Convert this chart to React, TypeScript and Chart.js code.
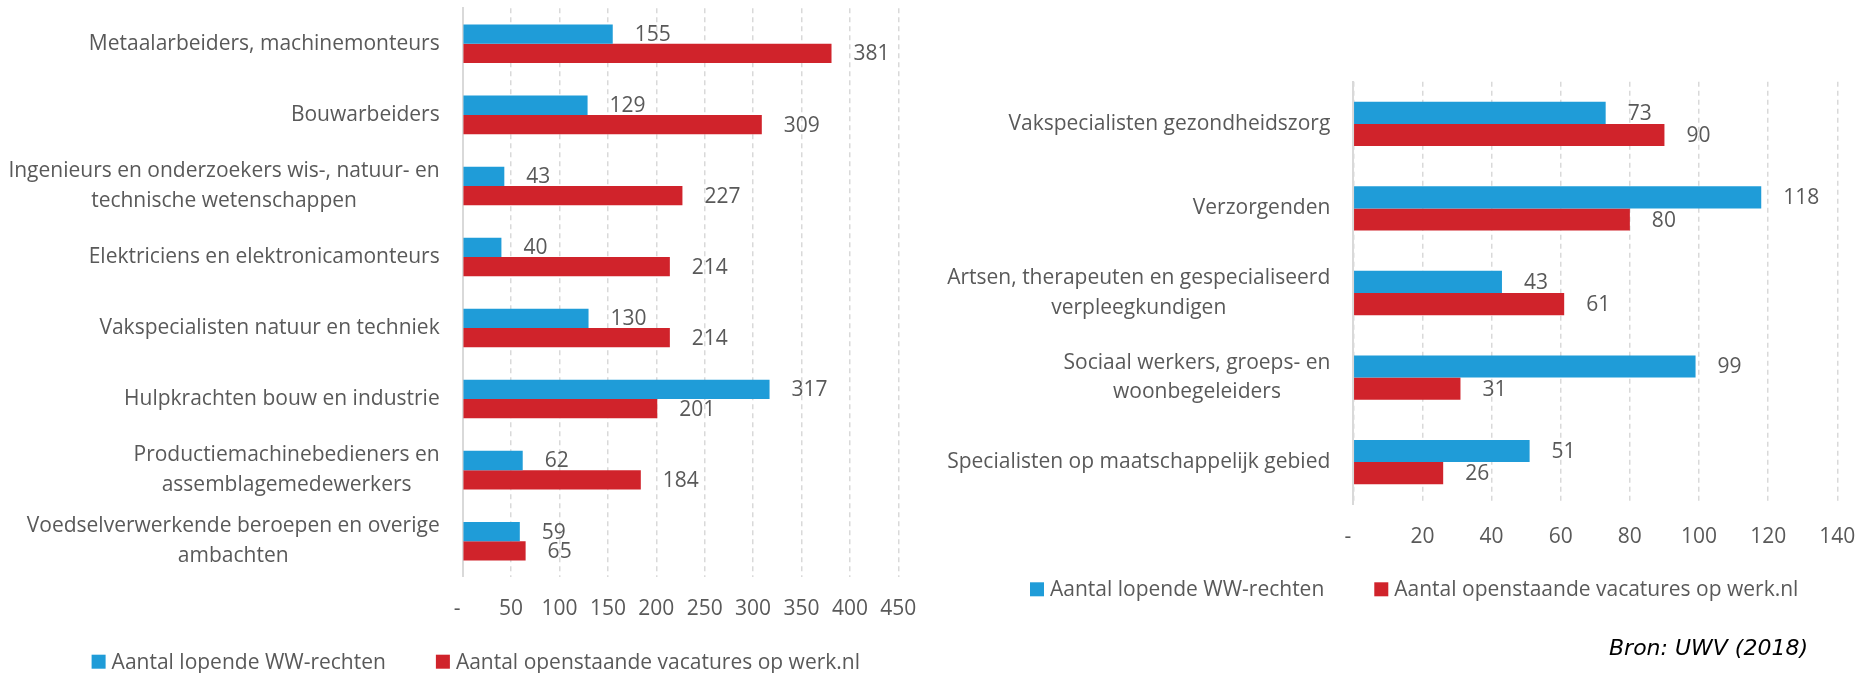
import React, { useEffect, useRef } from 'react';
import { Chart, registerables } from 'chart.js';

Chart.register(...registerables);

// ---------- data ----------
const seriesLabels = ['Aantal lopende WW-rechten', 'Aantal openstaande vacatures op werk.nl'];

const leftCategories: (string | string[])[] = [
  'Metaalarbeiders, machinemonteurs',
  'Bouwarbeiders',
  ['Ingenieurs en onderzoekers wis-, natuur- en', 'technische wetenschappen'],
  'Elektriciens en elektronicamonteurs',
  'Vakspecialisten natuur en techniek',
  'Hulpkrachten bouw en industrie',
  ['Productiemachinebedieners en', 'assemblagemedewerkers'],
  ['Voedselverwerkende beroepen en overige', 'ambachten'],
];
const leftWW = [155, 129, 43, 40, 130, 317, 62, 59];
const leftVacatures = [381, 309, 227, 214, 214, 201, 184, 65];
const leftAxisMax = 450;
const leftAxisStep = 50;

const rightCategories: (string | string[])[] = [
  'Vakspecialisten gezondheidszorg',
  'Verzorgenden',
  ['Artsen, therapeuten en gespecialiseerd', 'verpleegkundigen'],
  ['Sociaal werkers, groeps- en', 'woonbegeleiders'],
  'Specialisten op maatschappelijk gebied',
];
const rightWW = [73, 118, 43, 99, 51];
const rightVacatures = [90, 80, 61, 31, 26];
const rightAxisMax = 140;
const rightAxisStep = 20;

const sourceNote = 'Bron: UWV (2018)';

// ---------- style ----------
const BLUE = '#1F9CD8';
const RED = '#D0232B';
const TEXT = '#595959';
const GRID = '#D9D9D9';
const FAMILY = '"Open Sans", sans-serif';
const FS = 21;

const catLabelPlugin = {
  id: 'catLabels',
  afterDraw(chart: any, _args: any, opts: any) {
    const ctx = chart.ctx;
    const yScale = chart.scales.y;
    ctx.save();
    ctx.font = `${FS}px ${FAMILY}`;
    ctx.fillStyle = TEXT;
    ctx.textBaseline = 'middle';
    ctx.textAlign = 'center';
    (chart.data.labels as any[]).forEach((lab, i) => {
      const lines: string[] = Array.isArray(lab) ? lab : [lab];
      const maxW = Math.max(...lines.map((l) => ctx.measureText(l).width));
      const cx = chart.chartArea.left - opts.gap - maxW / 2;
      const cy = yScale.getPixelForValue(i);
      lines.forEach((l, k) => {
        ctx.fillText(l, cx, cy + (k - (lines.length - 1) / 2) * opts.lineHeight);
      });
    });
    ctx.restore();
  },
};

const valueLabelPlugin = {
  id: 'valueLabels',
  afterDatasetsDraw(chart: any, _args: any, opts: any) {
    const ctx = chart.ctx;
    ctx.save();
    ctx.font = `${FS}px ${FAMILY}`;
    ctx.fillStyle = TEXT;
    ctx.textBaseline = 'middle';
    ctx.textAlign = 'left';
    chart.data.datasets.forEach((ds: any, di: number) => {
      const meta = chart.getDatasetMeta(di);
      meta.data.forEach((bar: any, i: number) => {
        ctx.fillText(String(ds.data[i]), bar.x + opts.gap, bar.y + 1);
      });
    });
    ctx.restore();
  },
};

const boxLegendPlugin = {
  id: 'boxLegend',
  afterDraw(chart: any, _args: any, opts: any) {
    const ctx = chart.ctx;
    ctx.save();
    ctx.font = `${FS}px ${FAMILY}`;
    ctx.textBaseline = 'middle';
    ctx.textAlign = 'left';
    let x = opts.x;
    const y = opts.y;
    chart.data.datasets.forEach((ds: any) => {
      ctx.fillStyle = ds.backgroundColor;
      ctx.fillRect(x, y - opts.box / 2, opts.box, opts.box);
      x += opts.box + opts.gap;
      ctx.fillStyle = TEXT;
      ctx.fillText(ds.label, x, y + 1);
      x += ctx.measureText(ds.label).width + opts.itemGap;
    });
    ctx.restore();
  },
};

function makeConfig(p: {
  labels: (string | string[])[];
  ww: number[];
  vac: number[];
  max: number;
  step: number;
  catPct: number;
  padding: { top: number; left: number; right: number; bottom: number };
  yWidth: number;
  xHeight: number;
  legend: { x: number; y: number };
}): any {
  return {
    type: 'bar',
    data: {
      labels: p.labels,
      datasets: [
        { label: seriesLabels[0], data: p.ww, backgroundColor: BLUE, borderWidth: 0, categoryPercentage: p.catPct, barPercentage: 1 },
        { label: seriesLabels[1], data: p.vac, backgroundColor: RED, borderWidth: 0, categoryPercentage: p.catPct, barPercentage: 1 },
      ],
    },
    options: {
      indexAxis: 'y',
      animation: false,
      responsive: false,
      maintainAspectRatio: false,
      layout: { padding: p.padding },
      scales: {
        x: {
          min: 0,
          max: p.max,
          ticks: {
            stepSize: p.step,
            padding: 0,
            color: TEXT,
            font: { family: FAMILY, size: FS },
            maxRotation: 0,
            autoSkip: false,
            callback: (v: any) => (Number(v) === 0 ? '-  ' : String(v)),
          },
          grid: { color: GRID, lineWidth: 1.5, drawTicks: true, tickLength: 20, tickWidth: 0, tickColor: 'rgba(0,0,0,0)' },
          border: { display: false, dash: [5, 4] },
          afterFit: (s: any) => {
            s.height = p.xHeight;
          },
        },
        y: {
          ticks: { display: false },
          grid: { display: false },
          border: { display: true, color: GRID, width: 2 },
          afterFit: (s: any) => {
            s.width = p.yWidth;
          },
        },
      },
      plugins: {
        legend: { display: false },
        tooltip: { enabled: false },
        catLabels: { gap: 23, lineHeight: 29.5 },
        valueLabels: { gap: 22 },
        boxLegend: { x: p.legend.x, y: p.legend.y, box: 14, gap: 6, itemGap: 50 },
      },
    },
    plugins: [catLabelPlugin, valueLabelPlugin, boxLegendPlugin],
  };
}

export default function App() {
  const leftRef = useRef<HTMLCanvasElement>(null);
  const rightRef = useRef<HTMLCanvasElement>(null);

  useEffect(() => {
    const left = new Chart(
      leftRef.current!,
      makeConfig({
        labels: leftCategories,
        ww: leftWW,
        vac: leftVacatures,
        max: leftAxisMax,
        step: leftAxisStep,
        catPct: 0.543,
        padding: { top: 8.3, left: 0, right: 31.7, bottom: 0 },
        yWidth: 462.7,
        xHeight: 96.3,
        legend: { x: 91.6, y: 661.7 },
      })
    );
    const right = new Chart(
      rightRef.current!,
      makeConfig({
        labels: rightCategories,
        ww: rightWW,
        vac: rightVacatures,
        max: rightAxisMax,
        step: rightAxisStep,
        catPct: 0.524,
        padding: { top: 81.7, left: 0, right: 19.7, bottom: 0 },
        yWidth: 423.3,
        xHeight: 168.7,
        legend: { x: 100, y: 589.3 },
      })
    );
    return () => {
      left.destroy();
      right.destroy();
    };
  }, []);

  return (
    <div
      style={{
        position: 'fixed',
        left: 0,
        top: 0,
        width: 1857,
        height: 673,
        overflow: 'hidden',
        background: '#ffffff',
      }}
    >
      <canvas
        ref={leftRef}
        width={930}
        height={673}
        style={{ position: 'absolute', left: 0, top: 0, width: 930, height: 673, display: 'block' }}
      />
      <canvas
        ref={rightRef}
        width={927}
        height={673}
        style={{ position: 'absolute', left: 930, top: 0, width: 927, height: 673, display: 'block' }}
      />
      <div
        style={{
          position: 'absolute',
          left: 1609,
          top: 635,
          fontFamily: '"DejaVu Sans", sans-serif',
          fontStyle: 'italic',
          fontSize: 22,
          lineHeight: '26px',
          color: '#000000',
          whiteSpace: 'nowrap',
        }}
      >
        {sourceNote}
      </div>
    </div>
  );
}
